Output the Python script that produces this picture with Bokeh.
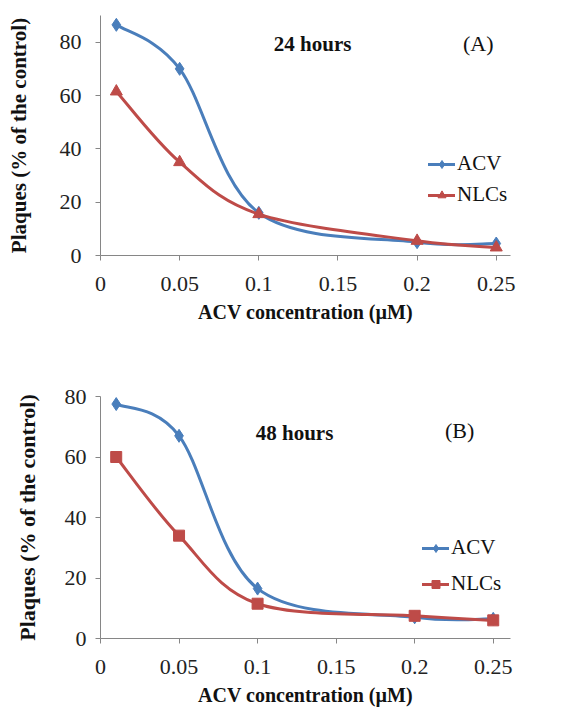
from bokeh.plotting import figure
from bokeh.layouts import column
from bokeh.models import (FixedTicker, Label, Legend, LegendItem, Range1d)
from bokeh.embed import file_html
from bokeh.resources import INLINE

# ---------------- data ----------------
conc = [0.01, 0.05, 0.1, 0.2, 0.25]
acv_24 = [86.5, 70.0, 16.0, 5.0, 4.5]
nlc_24 = [61.5, 35.0, 15.5, 5.5, 3.0]
acv_48 = [77.5, 67.0, 16.5, 7.0, 6.5]
nlc_48 = [60.0, 34.0, 11.5, 7.5, 6.0]

x_ticks = [0, 0.05, 0.1, 0.15, 0.2, 0.25]
x_tick_labels = ["0", "0.05", "0.1", "0.15", "0.2", "0.25"]
y_ticks = [0, 20, 40, 60, 80]
series_names = ["ACV", "NLCs"]
x_title = "ACV concentration (\u00b5M)"
y_title = "Plaques (% of the control)"

BLUE = "#4a7ebb"
RED = "#be4b48"
AXIS = "#868686"
FONT = "Liberation Serif"


def smooth(xs, ys):
    """Catmull-Rom style bezier segments through the data points (like Excel smoothing)."""
    n = len(xs)
    d = dict(x0=[], y0=[], x1=[], y1=[], cx0=[], cy0=[], cx1=[], cy1=[])
    for i in range(n - 1):
        a = i - 1 if i > 0 else i
        b = i + 2 if i + 2 < n else i + 1
        d["x0"].append(xs[i]); d["y0"].append(ys[i])
        d["x1"].append(xs[i + 1]); d["y1"].append(ys[i + 1])
        d["cx0"].append(xs[i] + (xs[i + 1] - xs[a]) / 6)
        d["cy0"].append(ys[i] + (ys[i + 1] - ys[a]) / 6)
        d["cx1"].append(xs[i + 1] - (xs[b] - xs[i]) / 6)
        d["cy1"].append(ys[i + 1] - (ys[b] - ys[i]) / 6)
    return d


def make_panel(width, height, borders, xmax, ymax, series, title, tag, title_pos,
               tag_pos, leg_loc, leg_spacing, ylab_standoff, ytitle_standoff, ytitle_size,
               xlab_standoff, xtitle_standoff):
    p = figure(width=width, height=height, output_backend="svg", toolbar_location=None,
               x_range=Range1d(0, xmax), y_range=Range1d(0, ymax),
               min_border_left=borders[0], min_border_right=borders[1],
               min_border_top=borders[2], min_border_bottom=borders[3])
    p.outline_line_color = None
    p.grid.visible = False
    p.background_fill_color = "white"
    p.border_fill_color = "white"

    for ax in (p.xaxis[0], p.yaxis[0]):
        ax.axis_line_color = AXIS
        ax.major_tick_line_color = AXIS
        ax.minor_tick_line_color = None
        ax.major_tick_out = 5
        ax.major_tick_in = 0
        ax.major_label_text_font = FONT
        ax.major_label_text_font_size = "22px"
        ax.major_label_text_color = "#222222"
        ax.axis_label_text_font = FONT
        ax.axis_label_text_font_style = "bold"
        ax.axis_label_text_color = "#111111"

    p.xaxis.ticker = FixedTicker(ticks=x_ticks)
    p.xaxis.major_label_overrides = {t: l for t, l in zip(x_ticks, x_tick_labels)}
    p.xaxis.major_label_standoff = xlab_standoff
    p.xaxis.axis_label = x_title
    p.xaxis.axis_label_text_font_size = "20px"
    p.xaxis.axis_label_standoff = xtitle_standoff

    p.yaxis.ticker = FixedTicker(ticks=y_ticks)
    p.yaxis.major_label_standoff = ylab_standoff
    p.yaxis.axis_label = y_title
    p.yaxis.axis_label_text_font_size = ytitle_size
    p.yaxis.axis_label_standoff = ytitle_standoff

    items = []
    for name, ys, color, marker, msize in series:
        seg = smooth(conc, ys)
        br = p.bezier(x0="x0", y0="y0", x1="x1", y1="y1", cx0="cx0", cy0="cy0",
                      cx1="cx1", cy1="cy1", source=seg, line_color=color, line_width=3,
                      line_cap="round")
        sr = p.scatter(conc, ys, marker=marker, size=msize, fill_color=color,
                       line_color=color)
        items.append(LegendItem(label=name, renderers=[br, sr]))

    leg = Legend(items=items, location=leg_loc, orientation="vertical",
                 label_text_font=FONT, label_text_font_size="21px",
                 label_text_color="#111111", glyph_width=27, glyph_height=20,
                 label_height=20, label_standoff=2, spacing=leg_spacing,
                 padding=0, margin=0, border_line_color=None,
                 background_fill_alpha=0)
    p.add_layout(leg, "center")

    p.add_layout(Label(x=title_pos[0], y=title_pos[1], text=title, text_font=FONT,
                       text_font_style="bold", text_font_size="21px",
                       text_align="center", text_baseline="middle",
                       text_color="#111111"))
    p.add_layout(Label(x=tag_pos[0], y=tag_pos[1], text=tag, text_font=FONT,
                       text_font_size="22px", text_align="center",
                       text_baseline="middle", text_color="#111111"))
    return p


p1 = make_panel(576, 340, (100, 66, 15, 85), 0.259, 90,
                [(series_names[0], acv_24, BLUE, "diamond", 13),
                 (series_names[1], nlc_24, RED, "triangle", 12)],
                "24 hours", "(A)", (0.134, 79.5), (0.2386, 79.5),
                (328, 48), 6, 14, 26, "21px", 16, 7)
p2 = make_panel(576, 368, (95, 56, 56, 70), 0.261, 80,
                [(series_names[0], acv_48, BLUE, "diamond", 13),
                 (series_names[1], nlc_48, RED, "square", 11)],
                "48 hours", "(B)", (0.1235, 68), (0.2286, 68.8),
                (322, 42), 11, 9, 22, "22px", 16, 7)

layout = column(p1, p2)
open("out.html", "w").write(file_html(layout, INLINE))
